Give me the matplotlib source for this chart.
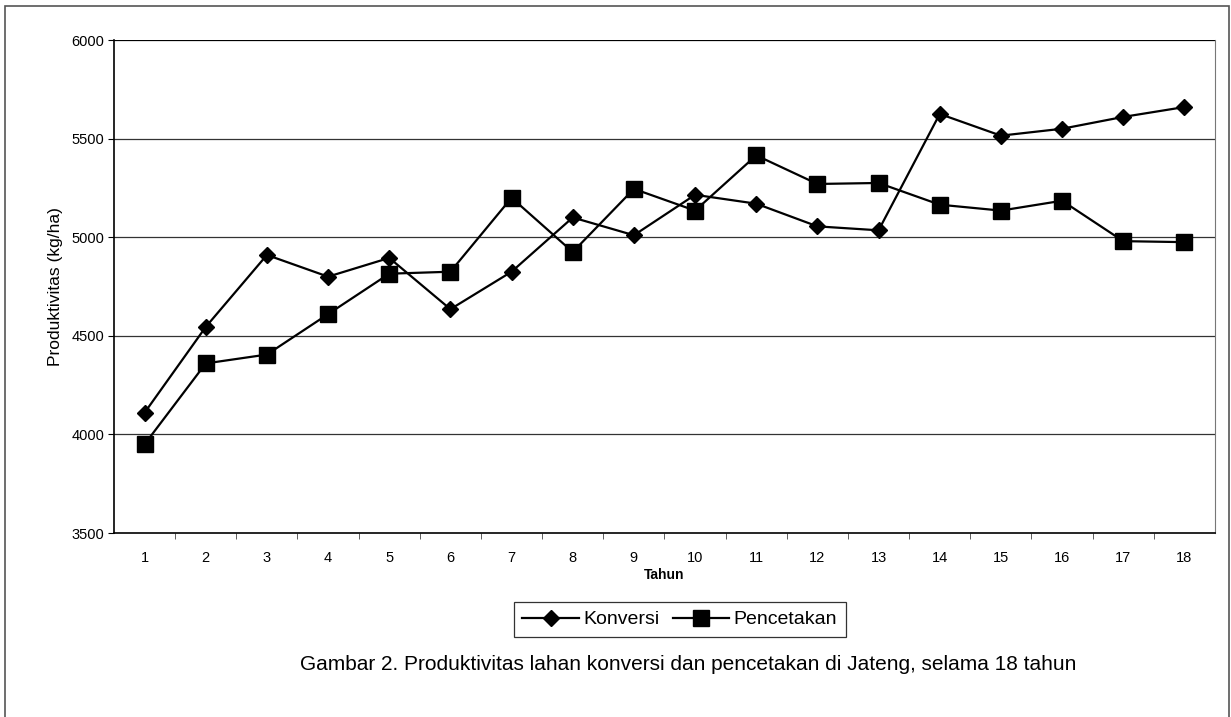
import matplotlib.pyplot as plt
from matplotlib.patches import Rectangle

plt.rcParams['font.family'] = ['Liberation Sans', 'DejaVu Sans']

tahun = list(range(1, 19))
konversi = [4110, 4545, 4910, 4800, 4895, 4635, 4825, 5100, 5010,
            5215, 5170, 5055, 5035, 5625, 5515, 5550, 5610, 5660]
pencetakan = [3950, 4360, 4405, 4610, 4815, 4825, 5200, 4925, 5245,
              5135, 5415, 5270, 5275, 5165, 5135, 5185, 4980, 4975]
y_ticks = [3500, 4000, 4500, 5000, 5500, 6000]

fig = plt.figure(figsize=(12.31, 7.17), dpi=100)
ax = fig.add_axes([0.0926, 0.2566, 0.8944, 0.6876])

# outer frame around the whole chart
fig.patches.append(Rectangle((5 / 1231, -0.01), 1224 / 1231, 1 - 6 / 717 + 0.01,
                             transform=fig.transFigure, fill=False,
                             edgecolor='#555555', linewidth=1.2))

ax.plot(tahun, konversi, color='black', linewidth=1.6, marker='D',
        markersize=8.5, label='Konversi', zorder=3)
ax.plot(tahun, pencetakan, color='black', linewidth=1.6, marker='s',
        markersize=11, label='Pencetakan', zorder=3)

ax.set_xlim(0.5, 18.5)
ax.set_ylim(3500, 6000)
ax.set_yticks(y_ticks)
ax.set_xticks(tahun)
ax.set_xticks([t + 0.5 for t in tahun[:-1]], minor=True)
ax.tick_params(axis='x', which='major', length=0, labelsize=10.5, pad=13)
ax.tick_params(axis='x', which='minor', length=4, direction='out', color='#444444')
ax.tick_params(axis='y', length=4, direction='out', labelsize=10.5, pad=3)

for v in y_ticks[1:]:
    ax.axhline(v, color='black' if v == 6000 else '#333333', linewidth=0.9, zorder=1)

ax.spines['top'].set_visible(False)
ax.spines['right'].set_color('#777777')
ax.spines['left'].set_linewidth(1.2)
ax.spines['bottom'].set_linewidth(1.2)

ax.set_xlabel('Tahun', fontsize=10, fontweight='bold', labelpad=2)
ax.set_ylabel('Produktivitas (kg/ha)', fontsize=12.5, labelpad=6)

leg = ax.legend(loc='upper center', bbox_to_anchor=(0.514, -0.14), ncol=2,
                fontsize=14, frameon=True, fancybox=False, edgecolor='black',
                handlelength=2.9, handletextpad=0.25, columnspacing=0.65,
                borderpad=0.45, borderaxespad=0)
leg.get_frame().set_linewidth(0.9)

fig.text(688 / 1231, 1 - 665 / 717,
         'Gambar 2. Produktivitas lahan konversi dan pencetakan di Jateng, selama 18 tahun',
         ha='center', va='center', fontsize=15)

fig.savefig('out.png', dpi=100)
